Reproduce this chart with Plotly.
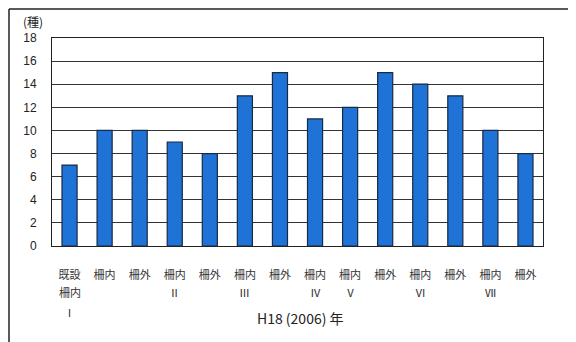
import plotly.graph_objects as go

categories = ["既設", "柵内", "柵外", "柵内", "柵外", "柵内", "柵外",
              "柵内", "柵内", "柵外", "柵内", "柵外", "柵内", "柵外"]
row2 = ["柵内", "", "", "Ⅱ", "", "Ⅲ", "", "Ⅳ", "Ⅴ", "", "Ⅵ", "", "Ⅶ", ""]
row3 = ["Ⅰ", "", "", "", "", "", "", "", "", "", "", "", "", ""]
values = [7, 10, 10, 9, 8, 13, 15, 11, 12, 15, 14, 13, 10, 8]
y_ticks = [0, 2, 4, 6, 8, 10, 12, 14, 16, 18]
x_title = "H18 (2006) 年"
y_title = "(種)"

FONT = "Liberation Sans, Noto Sans CJK JP, sans-serif"
CJK = "Noto Sans CJK JP, sans-serif"
idx = list(range(len(values)))

# page body adds an 8px offset; work in viewport pixels and convert
OFF = 8
VW, VH = 576, 342
W, H = VW - OFF, VH - OFF
PL, PR, PT, PB = 52, 543, 38, 246  # plot area in viewport px
L, R, T, B = PL - OFF, VW - PR, PT - OFF, VH - PB
pw, ph = W - L - R, H - T - B

def py(ypx):
    return (PB - ypx) / ph

def px(xpx):
    return (xpx - PL) / pw

fig = go.Figure()
fig.add_trace(go.Bar(
    x=idx, y=values,
    marker=dict(color="#1f72d6", line=dict(color="#1a2a44", width=1.2)),
    width=0.43,
))

annotations = []
for i in idx:
    if row2[i]:
        annotations.append(dict(x=i, y=py(292), xref="x", yref="paper",
                                text=row2[i], showarrow=False,
                                font=dict(family=CJK, size=11, color="#333"),
                                xanchor="center", yanchor="middle"))
    if row3[i]:
        annotations.append(dict(x=i, y=py(312), xref="x", yref="paper",
                                text=row3[i], showarrow=False,
                                font=dict(family=CJK, size=11, color="#333"),
                                xanchor="center", yanchor="middle"))
annotations.append(dict(x=px(300), y=py(318), xref="paper", yref="paper",
                        text=x_title, showarrow=False,
                        font=dict(family=CJK, size=14, color="#222"),
                        xanchor="center", yanchor="middle"))
annotations.append(dict(x=px(33), y=py(21), xref="paper", yref="paper",
                        text=y_title, showarrow=False,
                        font=dict(family=CJK, size=12, color="#222"),
                        xanchor="center", yanchor="middle"))

shapes = [
    dict(type="line", xref="paper", yref="paper",
         x0=px(OFF + 1), x1=px(VW), y0=py(OFF + 1), y1=py(OFF + 1),
         line=dict(color="#222", width=1.5)),
    dict(type="line", xref="paper", yref="paper",
         x0=px(OFF + 1), x1=px(OFF + 1), y0=py(OFF + 1), y1=py(VH),
         line=dict(color="#222", width=1.5)),
]

fig.update_layout(
    width=W, height=H,
    margin=dict(l=L, r=R, t=T, b=B),
    paper_bgcolor="white", plot_bgcolor="white",
    showlegend=False,
    annotations=annotations,
    shapes=shapes,
    xaxis=dict(
        tickmode="array", tickvals=idx, ticktext=categories,
        range=[-0.5, len(values) - 0.5],
        showline=True, linecolor="#222", linewidth=1, mirror=True,
        showgrid=False, ticks="", ticklabelstandoff=19,
        tickfont=dict(family=CJK, size=11, color="#333"),
    ),
    yaxis=dict(
        range=[0, 18], tickmode="array", tickvals=y_ticks,
        showline=True, linecolor="#222", linewidth=1, mirror=True,
        showgrid=True, gridcolor="#333", gridwidth=1,
        ticks="", ticklabelstandoff=12,
        tickfont=dict(family=FONT, size=12, color="#222"),
        zeroline=False,
    ),
)

fig.write_html("out.html")
